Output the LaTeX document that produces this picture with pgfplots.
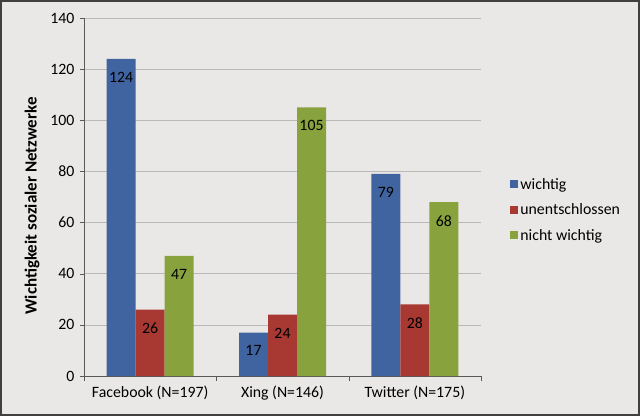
\documentclass[border=0pt]{standalone}
\usepackage{pgfplots}
\pgfplotsset{compat=1.18}
\usepackage{fontspec}
\setmainfont{Carlito}
\usetikzlibrary{backgrounds}

\definecolor{bgc}{RGB}{234,232,230}
\definecolor{cblue}{RGB}{64,100,160}
\definecolor{cred}{RGB}{168,56,50}
\definecolor{cgreen}{RGB}{136,162,62}

\begin{document}
\begin{tikzpicture}
\begin{axis}[
  scale only axis, width=397pt, height=358pt,
  ybar=0pt, bar width=29pt,
  ymin=0, ymax=140, ytick={0,20,...,140},
  xmin=-0.5, xmax=2.5,
  xtick={0,1,2},
  xticklabels={Facebook (N=197), Xing (N=146), Twitter (N=175)},
  major x tick style={draw=none},
  extra x ticks={-0.5,0.5,1.5,2.5},
  extra x tick labels={},
  extra x tick style={major tick length=5pt, tick align=outside, grid=none,
    major x tick style={draw=gray!70!black}},
  axis x line*=bottom, axis y line*=left,
  axis line style={gray!70!black, -},
  tick align=outside, major tick length=4pt,
  tick style={gray!70!black},
  ymajorgrids, grid style={gray!55, line width=0.6pt},
  font=\fontsize{15.8}{18}\selectfont,
  /pgf/number format/assume math mode=true,
  yticklabel style={xshift=-2pt},
  xticklabel style={yshift=-2pt},
  ylabel={\bfseries\fontsize{17}{20}\selectfont Wichtigkeit sozialer Netzwerke},
  ylabel style={at={(axis description cs:-0.131,0.475)}, anchor=center},
  nodes near coords,
  every node near coord/.append style={anchor=north, inner sep=0pt, yshift=-13pt, black},
  legend style={draw=none, fill=none, at={(axis description cs:1.066,0.464)},
    anchor=west, row sep=9pt, font=\fontsize{15.8}{18}\selectfont},
  legend cell align=left,
  legend image code/.code={\fill[#1,draw=none] (0pt,-4pt) rectangle (8pt,4pt);},
]
\addplot[fill=cblue, draw=none] coordinates {(0,124) (1,17) (2,79)};
\addplot[fill=cred, draw=none] coordinates {(0,26) (1,24) (2,28)};
\addplot[fill=cgreen, draw=none] coordinates {(0,47) (1,105) (2,68)};
\legend{wichtig, unentschlossen, nicht wichtig}
\end{axis}
\begin{scope}[on background layer]
\fill[bgc] ([xshift=-84pt,yshift=-40pt]current axis.south west) rectangle ([xshift=159pt,yshift=18pt]current axis.north east);
\draw[gray!50!black, line width=2pt] ([xshift=-83pt,yshift=-39pt]current axis.south west) rectangle ([xshift=158pt,yshift=17pt]current axis.north east);
\end{scope}
\end{tikzpicture}
\end{document}
